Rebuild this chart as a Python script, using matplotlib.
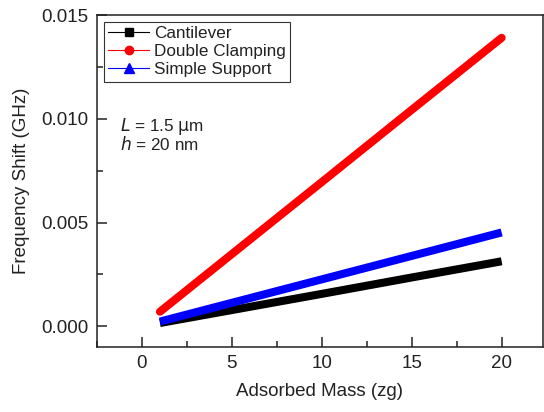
import matplotlib
matplotlib.use("Agg")
import matplotlib.pyplot as plt
from matplotlib.lines import Line2D
from matplotlib.ticker import MultipleLocator

plt.rcParams['font.family'] = ['Liberation Sans', 'DejaVu Sans']

# adsorbed mass (zg) and frequency shift (GHz)
mass = [1, 5, 10, 15, 20]
cantilever = [0.000157, 0.00078, 0.00156, 0.00235, 0.00313]
double_clamping = [0.00070, 0.00348, 0.00695, 0.01043, 0.01390]
simple_support = [0.000226, 0.00113, 0.00226, 0.00339, 0.00452]

series_names = ['Cantilever', 'Double Clamping', 'Simple Support']

fig = plt.figure(figsize=(5.44, 4.12), dpi=100)
ax = fig.add_axes([97 / 544, 65 / 412, 446 / 544, 332 / 412])

ax.plot(mass, cantilever, color='black', lw=5.8, solid_capstyle='butt')
ax.plot(mass, simple_support, color='#0000ff', lw=5.8, solid_capstyle='butt')
ax.plot(mass, double_clamping, color='#ff0000', lw=5.8, solid_capstyle='round')

ax.set_xlim(-2.5, 22.3)
ax.set_ylim(-0.001, 0.015)
ax.xaxis.set_major_locator(MultipleLocator(5))
ax.xaxis.set_minor_locator(MultipleLocator(2.5))
ax.yaxis.set_major_locator(MultipleLocator(0.005))
ax.yaxis.set_minor_locator(MultipleLocator(0.0025))
ax.yaxis.set_major_formatter(matplotlib.ticker.FormatStrFormatter('%.3f'))

ax.tick_params(which='both', direction='in', top=False, right=False,
               labelsize=13.5, width=1.1, colors='#222222')
ax.tick_params(which='major', length=7, pad=6)
ax.tick_params(which='minor', length=4)
for s in ax.spines.values():
    s.set_linewidth(1.1)
    s.set_color('#222222')

ax.set_xlabel('Adsorbed Mass (zg)', fontsize=13.5, labelpad=8, color='#222222')
ax.set_ylabel('Frequency Shift (GHz)', fontsize=13.5, labelpad=8, color='#222222')

handles = [
    Line2D([], [], color='black', lw=0.8, marker='s', markersize=6),
    Line2D([], [], color='#ff0000', lw=0.8, marker='o', markersize=6),
    Line2D([], [], color='#0000ff', lw=0.8, marker='^', markersize=6.5),
]
leg = ax.legend(handles, series_names, loc='upper left', fontsize=12.3,
                fancybox=False, edgecolor='#333333', framealpha=1,
                borderaxespad=0.4, handlelength=2.4, handletextpad=0.3,
                labelspacing=0.18, borderpad=0.25)
leg.get_frame().set_linewidth(0.8)
for t in leg.get_texts():
    t.set_color('#222222')

ax.text(0.052, 0.665, r'$\it{L}$ = 1.5 $\mathrm{\mu}$m', transform=ax.transAxes,
        fontsize=12.3, va='center', color='#222222')
ax.text(0.052, 0.61, r'$\it{h}$ = 20 nm', transform=ax.transAxes,
        fontsize=12.3, va='center', color='#222222')

fig.savefig('out.png', dpi=100)
